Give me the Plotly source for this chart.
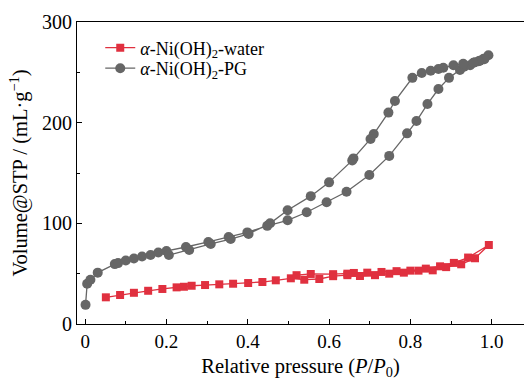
import plotly.graph_objects as go

# alpha-Ni(OH)2-water : adsorption then desorption branch
water_ads_p = [0.051, 0.086, 0.120, 0.155, 0.190, 0.225, 0.243, 0.262, 0.295, 0.330, 0.364, 0.401, 0.436, 0.469, 0.506,
               0.539, 0.576, 0.610, 0.645, 0.676, 0.713, 0.748, 0.784, 0.820, 0.855, 0.888, 0.925, 0.959, 0.993]
water_ads_v = [26.5, 28.8, 31.0, 33.0, 34.8, 36.4, 37.0, 38.0, 38.7, 39.4, 40.0, 40.7, 41.7, 43.4, 45.4,
               44.0, 44.7, 47.5, 48.5, 47.7, 48.5, 50.0, 51.0, 53.0, 53.3, 56.5, 59.3, 65.3, 78.5]
water_des_p = [0.942, 0.907, 0.873, 0.838, 0.800, 0.766, 0.729, 0.694, 0.661, 0.645, 0.610, 0.555, 0.520]
water_des_v = [66.0, 60.7, 57.3, 55.0, 53.0, 52.5, 51.7, 51.0, 50.7, 50.0, 49.5, 49.7, 48.5]

# alpha-Ni(OH)2-PG : adsorption then desorption branch
pg_ads_p = [0.001, 0.005, 0.013, 0.031, 0.073, 0.081, 0.100, 0.120, 0.140, 0.161, 0.180, 0.200, 0.248, 0.303, 0.353,
            0.399, 0.448, 0.498, 0.545, 0.594, 0.643, 0.699, 0.748, 0.792, 0.815, 0.842, 0.869, 0.895, 0.922, 0.932,
            0.947, 0.959, 0.971, 0.980, 0.992]
pg_ads_v = [19.0, 40.0, 44.0, 51.0, 59.5, 60.5, 63.0, 65.0, 67.0, 68.5, 71.0, 72.5, 76.5, 81.5, 86.5,
            91.0, 97.5, 103.0, 111.0, 121.0, 131.4, 148.0, 167.0, 189.4, 201.6, 218.5, 233.4, 244.5, 252.3, 255.6,
            257.0, 260.0, 261.6, 263.5, 267.0]
pg_des_p = [0.982, 0.968, 0.955, 0.930, 0.906, 0.881, 0.869, 0.850, 0.828, 0.805, 0.762, 0.746, 0.710, 0.702,
            0.660, 0.657, 0.600, 0.555, 0.498, 0.455, 0.402, 0.358, 0.309, 0.256, 0.206]
pg_des_v = [263.0, 261.0, 259.5, 258.5, 257.0, 254.5, 253.3, 251.6, 249.3, 244.5, 221.5, 210.0, 188.7, 183.8,
            164.5, 162.5, 140.7, 127.0, 113.0, 100.0, 89.5, 84.4, 79.5, 73.5, 68.5]

x_ticks = [0, 0.2, 0.4, 0.6, 0.8, 1.0]
x_ticktext = ["0", "0.2", "0.4", "0.6", "0.8", "1.0"]
y_ticks = [0, 100, 200, 300]

RED = "#E0303F"
GREY = "#666666"
FONT = "Liberation Serif"

fig = go.Figure()
fig.add_trace(go.Scatter(
    x=water_ads_p + water_des_p, y=water_ads_v + water_des_v, mode="lines+markers",
    name="<i>α</i>-Ni(OH)<sub>2</sub>-water", legend="legend",
    line=dict(color=RED, width=1.3),
    marker=dict(symbol="square", size=8, color=RED)))
fig.add_trace(go.Scatter(
    x=pg_ads_p + pg_des_p, y=pg_ads_v + pg_des_v, mode="lines+markers",
    name="<i>α</i>-Ni(OH)<sub>2</sub>-PG", legend="legend2",
    line=dict(color=GREY, width=1.3),
    marker=dict(symbol="circle", size=10, color=GREY)))

axis_common = dict(showgrid=False, zeroline=False, showline=True, linecolor="black", linewidth=1,
                   ticks="inside", ticklen=5, tickwidth=1, tickcolor="black")

fig.update_xaxes(**axis_common, range=[-0.02, 1.0795], tickvals=x_ticks, ticktext=x_ticktext, mirror=True,
                 tickfont=dict(family=FONT, size=19, color="black"),
                 minor=dict(dtick=0.1, tick0=0, ticks="inside", ticklen=3, tickcolor="black", tickwidth=1),
                 title=dict(text="Relative pressure (<i>P</i>/<i>P</i><sub>0</sub>)",
                            font=dict(family=FONT, size=20.5, color="black"), standoff=7))
fig.update_yaxes(**axis_common, range=[0, 300], tickvals=y_ticks,
                 tickfont=dict(family=FONT, size=20, color="black"),
                 minor=dict(dtick=50, tick0=0, ticks="inside", ticklen=3, tickcolor="black", tickwidth=1),
                 title=dict(text="Volume@STP / (mL·g<sup>−1</sup>)",
                            font=dict(family=FONT, size=20.5, color="black"), standoff=8))

leg_common = dict(xanchor="left", yanchor="middle", bgcolor="rgba(0,0,0,0)",
                  font=dict(family=FONT, size=18, color="black"), itemwidth=30)
fig.update_layout(
    width=524, height=380,
    margin=dict(l=77, r=0, t=22, b=56),
    paper_bgcolor="white", plot_bgcolor="white",
    font=dict(family=FONT, size=18, color="black"),
    showlegend=True,
    legend=dict(x=0.052, y=0.914, **leg_common),
    legend2=dict(x=0.052, y=0.846, **leg_common),
)

fig.write_html("out.html")
